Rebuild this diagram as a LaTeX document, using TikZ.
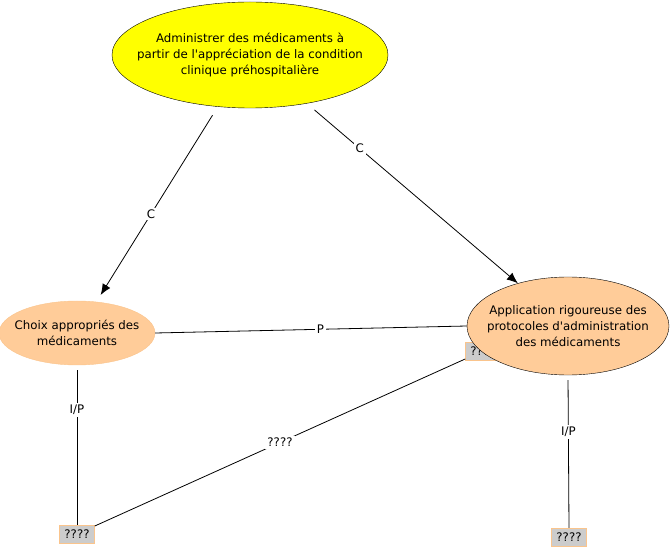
\documentclass[tikz,border=0pt]{standalone}
\usepackage{fontspec}
\setmainfont{DejaVu Sans}[Ligatures=TeXOff]
\usetikzlibrary{shapes.geometric,arrows.meta}

\definecolor{jaune}{RGB}{255,255,0}
\definecolor{peche}{RGB}{255,204,153}
\definecolor{pechebord}{RGB}{250,196,140}
\definecolor{gris}{RGB}{204,204,204}

\tikzset{
  concept/.style={ellipse, draw=black, fill=peche, align=center,
    inner xsep=-60pt, inner ysep=-20pt,
    font=\fontsize{11.8}{16}\selectfont},
  boite/.style={draw=pechebord, fill=gris, inner xsep=5pt, inner ysep=0pt,
    minimum height=18pt, font=\fontsize{11.8}{14}\selectfont},
  lien/.style={draw=black, line width=0.8pt},
  fleche/.style={lien, -{Latex[length=11pt,width=9pt]}},
  etiq/.style={fill=white, inner sep=2pt, font=\fontsize{11.8}{14}\selectfont}
}

\begin{document}
\begin{tikzpicture}[x=1pt,y=-1pt]
    \useasboundingbox (0,0) rectangle (670,548);

    % concept du haut
    \node[concept, fill=jaune, minimum width=276pt, minimum height=106pt] (admin) at (250,55)
        {Administrer des médicaments à\\partir de l'appréciation de la condition\\clinique préhospitalière};

    % boite cachee derriere l'ellipse de droite
    \node[boite] (cache) at (483,351) {????};

    \node[concept, draw=pechebord, minimum width=156pt, minimum height=64pt] (choix) at (77,333)
        {Choix appropriés des\\médicaments};
    \node[concept, minimum width=202pt, minimum height=98pt] (appli) at (568,326)
        {Application rigoureuse des\\protocoles d'administration\\des médicaments};

    \node[boite] (boiteG) at (77,534) {????};
    \node[boite] (boiteD) at (569,537) {????};

    % liens
    \draw[fleche, shorten <=10pt, shorten >=8pt] (admin) -- node[etiq, pos=0.55] {C} (choix);
    \draw[fleche, shorten <=10pt] (admin) -- node[etiq, pos=0.25] {C} (appli);
    \draw[lien] (choix.east) -- node[etiq, pos=0.53] {P} (appli.west);
    \draw[lien, shorten <=5pt] (choix.south) -- node[etiq, pos=0.28] {I/P} (boiteG.north);
    \draw[lien, shorten <=5pt] (appli.south) -- node[etiq, pos=0.37] {I/P} (boiteD.north);
    \draw[lien] (cache) -- node[etiq] {????} (boiteG);
\end{tikzpicture}
\end{document}
